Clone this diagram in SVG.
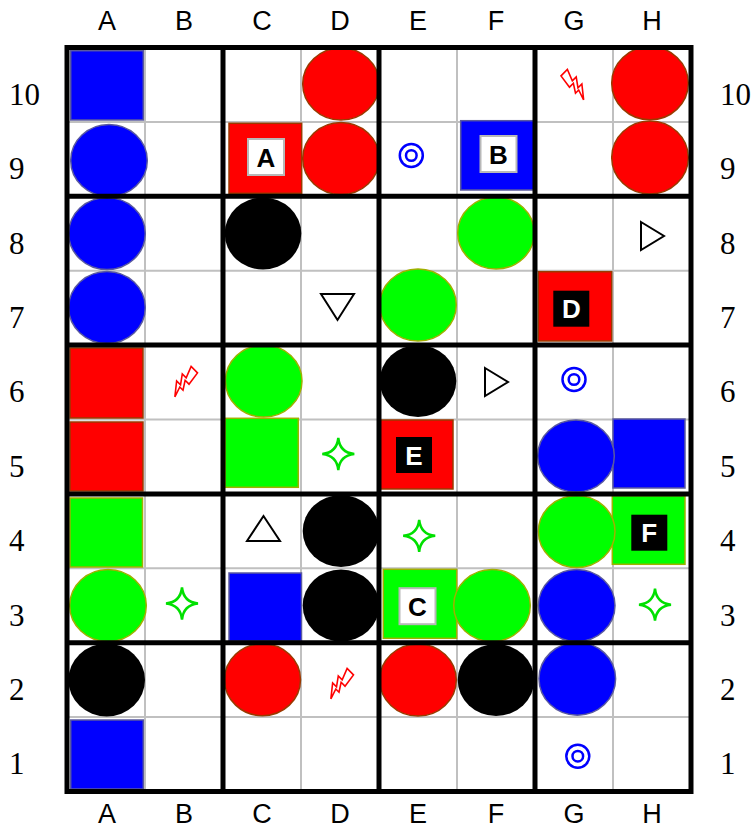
<svg xmlns="http://www.w3.org/2000/svg" width="754" height="830" viewBox="0 0 754 830">
<defs>
<style>
.bg{fill:#fff}
.thin{stroke:#c0c0c0;stroke-width:2;fill:none}
.thick{stroke:#000;stroke-width:5;fill:none;stroke-linecap:square}
.colL{font-family:"Liberation Sans",Arial,sans-serif;font-size:27px;text-anchor:middle;fill:#000}
.rowL{font-family:"Liberation Serif","Times New Roman",serif;font-size:31px;fill:#000}
.blue{fill:#0000ff;stroke:#5a5aa0;stroke-width:1.5}
.red{fill:#ff0000;stroke:#9a3a00;stroke-width:1.5}
.green{fill:#00ff00;stroke:#a0b000;stroke-width:1.5}
.black{fill:#000;stroke:none}
.boxW{fill:#fff;stroke:#b8b8b8;stroke-width:2}
.boxB{fill:#000;stroke:none}
.lblB{font-family:"Liberation Sans",Arial,sans-serif;font-weight:bold;font-size:26px;text-anchor:middle;fill:#000}
.lblW{font-family:"Liberation Sans",Arial,sans-serif;font-weight:bold;font-size:26px;text-anchor:middle;fill:#fff}
.tri{fill:#fff;stroke:#000;stroke-width:2}
.ring{fill:none;stroke:#0000ff;stroke-width:2.5}
.star{fill:#fff;stroke:#00e000;stroke-width:2.5}
.bolt{fill:#fff;stroke:#ff0000;stroke-width:1.6;stroke-linejoin:miter}
</style>
<path id="starP" d="M0,-16 Q1.5,-1.5 16,0 Q1.5,1.5 0,16 Q-1.5,1.5 -16,0 Q-1.5,-1.5 0,-16 Z"/>
<path id="boltP" d="M-4.5,-16 L4.5,-16 L0,-4.5 L5.5,-4.5 L-1,4.5 L4.5,4.5 L-5.5,17 L-2,6.5 L-6.5,6.5 L-1,-2 L-6.5,-2 Z"/>
</defs>
<rect class="bg" x="0" y="0" width="754" height="830"/>

<g id="labels">
<text class="colL" x="107" y="30">A</text>
<text class="colL" x="184" y="30">B</text>
<text class="colL" x="262" y="30">C</text>
<text class="colL" x="340" y="30">D</text>
<text class="colL" x="418" y="30">E</text>
<text class="colL" x="496" y="30">F</text>
<text class="colL" x="574" y="30">G</text>
<text class="colL" x="652" y="30">H</text>
<text class="colL" x="107" y="823">A</text>
<text class="colL" x="184" y="823">B</text>
<text class="colL" x="262" y="823">C</text>
<text class="colL" x="340" y="823">D</text>
<text class="colL" x="418" y="823">E</text>
<text class="colL" x="496" y="823">F</text>
<text class="colL" x="574" y="823">G</text>
<text class="colL" x="652" y="823">H</text>
<text class="rowL" x="9" y="105">10</text>
<text class="rowL" x="9" y="179">9</text>
<text class="rowL" x="9" y="254">8</text>
<text class="rowL" x="9" y="328">7</text>
<text class="rowL" x="9" y="402">6</text>
<text class="rowL" x="9" y="477">5</text>
<text class="rowL" x="9" y="551">4</text>
<text class="rowL" x="9" y="626">3</text>
<text class="rowL" x="9" y="700">2</text>
<text class="rowL" x="9" y="774">1</text>
<text class="rowL" x="720" y="105">10</text>
<text class="rowL" x="720" y="179">9</text>
<text class="rowL" x="720" y="254">8</text>
<text class="rowL" x="720" y="328">7</text>
<text class="rowL" x="720" y="402">6</text>
<text class="rowL" x="720" y="477">5</text>
<text class="rowL" x="720" y="551">4</text>
<text class="rowL" x="720" y="626">3</text>
<text class="rowL" x="720" y="700">2</text>
<text class="rowL" x="720" y="774">1</text>
</g>

<g id="grid-thin">
<path class="thin" d="M145,47.5V791.5 M301,47.5V791.5 M457,47.5V791.5 M613,47.5V791.5 M67,121.9H691 M67,270.7H691 M67,419.5H691 M67,568.3H691 M67,717.1H691"/>
</g>

<g id="pieces">
<g id="A10"><rect class="blue" x="70.7" y="50.7" width="72.6" height="69.3"/></g>
<g id="C9"><rect class="red" x="229" y="123.3" width="72.7" height="70"/><rect class="boxW" x="248" y="139" width="36" height="36"/><text class="lblB" x="266" y="166.5">A</text></g>
<g id="F9"><rect class="blue" x="460.7" y="120.7" width="73.3" height="69.3"/><rect class="boxW" x="480.5" y="136" width="36" height="36"/><text class="lblB" x="498.5" y="163.5">B</text></g>
<g id="G7"><rect class="red" x="538.3" y="271.7" width="73.4" height="69.3"/><rect class="boxB" x="553.3" y="290.7" width="36" height="36"/><text class="lblW" x="571.3" y="318">D</text></g>
<g id="A6"><rect class="red" x="70" y="348" width="73" height="70"/></g>
<g id="A5"><rect class="red" x="70" y="422" width="73" height="69"/></g>
<g id="C5"><rect class="green" x="225" y="418.3" width="73.3" height="69"/></g>
<g id="E5"><rect class="red" x="380" y="420" width="73" height="69"/><rect class="boxB" x="396" y="437" width="36" height="36"/><text class="lblW" x="414" y="464.5">E</text></g>
<g id="H5"><rect class="blue" x="613" y="419" width="72" height="69"/></g>
<g id="A4"><rect class="green" x="70" y="498" width="72.5" height="69"/></g>
<g id="H4"><rect class="green" x="612.3" y="495.7" width="72.7" height="68.6"/><rect class="boxB" x="631.3" y="514.7" width="36" height="36"/><text class="lblW" x="649.3" y="542">F</text></g>
<g id="C3"><rect class="blue" x="229" y="573" width="72.5" height="68"/></g>
<g id="E3"><rect class="green" x="383.3" y="569.3" width="73.4" height="69"/><rect class="boxW" x="399.5" y="588.2" width="36" height="36"/><text class="lblB" x="417.5" y="615.5">C</text></g>
<g id="A1"><rect class="blue" x="70.7" y="720" width="72.6" height="69"/></g>

<g id="D10"><ellipse class="red" cx="341" cy="84" rx="38.3" ry="36"/></g>
<g id="H10"><ellipse class="red" cx="650" cy="83.3" rx="38.3" ry="36.5"/></g>
<g id="A9"><ellipse class="blue" cx="109" cy="160.5" rx="38.3" ry="36"/></g>
<g id="D9"><ellipse class="red" cx="341" cy="158.5" rx="38.3" ry="36"/></g>
<g id="H9"><ellipse class="red" cx="650" cy="157.5" rx="38.3" ry="36.5"/></g>
<g id="A8"><ellipse class="blue" cx="107" cy="233.5" rx="38.3" ry="36"/></g>
<g id="C8"><ellipse class="black" cx="263" cy="233.5" rx="38.3" ry="36"/></g>
<g id="F8"><ellipse class="green" cx="496" cy="233" rx="38.3" ry="36"/></g>
<g id="A7"><ellipse class="blue" cx="107" cy="307.5" rx="38.3" ry="36"/></g>
<g id="E7"><ellipse class="green" cx="418" cy="305" rx="38.3" ry="36"/></g>
<g id="C6"><ellipse class="green" cx="263.7" cy="381" rx="38.3" ry="36"/></g>
<g id="E6"><ellipse class="black" cx="418" cy="381" rx="38.3" ry="36"/></g>
<g id="G5"><ellipse class="blue" cx="576" cy="456" rx="38.3" ry="36"/></g>
<g id="D4"><ellipse class="black" cx="341" cy="531" rx="38.3" ry="36"/></g>
<g id="G4"><ellipse class="green" cx="576.7" cy="531.5" rx="38.3" ry="36"/></g>
<g id="A3"><ellipse class="green" cx="108" cy="605.5" rx="38.3" ry="36"/></g>
<g id="D3"><ellipse class="black" cx="341" cy="605.5" rx="38.3" ry="36"/></g>
<g id="F3"><ellipse class="green" cx="492" cy="605.5" rx="38.3" ry="36"/></g>
<g id="G3"><ellipse class="blue" cx="576.7" cy="605.5" rx="38.3" ry="36"/></g>
<g id="A2"><ellipse class="black" cx="106.7" cy="680" rx="38.3" ry="36.5"/></g>
<g id="C2"><ellipse class="red" cx="262.5" cy="679.7" rx="38" ry="36"/></g>
<g id="E2"><ellipse class="red" cx="418" cy="680" rx="38.3" ry="36"/></g>
<g id="F2"><ellipse class="black" cx="496" cy="680" rx="38.3" ry="36"/></g>
<g id="G2"><ellipse class="blue" cx="577.3" cy="678.7" rx="38.3" ry="36.5"/></g>

<g id="D7"><polygon class="tri" points="321,294 354,294 337.5,320"/></g>
<g id="H8"><polygon class="tri" points="641,222 664,236 641,250"/></g>
<g id="F6"><polygon class="tri" points="485,368 508,382 485,396"/></g>
<g id="C4"><polygon class="tri" points="247,541 280,541 263.5,516"/></g>

<g id="E9"><circle class="ring" cx="411.3" cy="155.5" r="11.5"/><circle class="ring" cx="411.3" cy="155.5" r="5.3"/></g>
<g id="G6"><circle class="ring" cx="574" cy="379.5" r="11.5"/><circle class="ring" cx="574" cy="379.5" r="5.3"/></g>
<g id="G1"><circle class="ring" cx="577.8" cy="756.2" r="11.5"/><circle class="ring" cx="577.8" cy="756.2" r="5.3"/></g>

<g id="D5"><use href="#starP" class="star" x="338.3" y="454"/></g>
<g id="E4"><use href="#starP" class="star" x="419.2" y="535.8"/></g>
<g id="B3"><use href="#starP" class="star" x="182" y="603.5"/></g>
<g id="H3"><use href="#starP" class="star" x="655" y="604.7"/></g>

<g id="G10"><use href="#boltP" class="bolt" transform="translate(575.5,84) rotate(-45)"/></g>
<g id="B6"><use href="#boltP" class="bolt" transform="translate(183,381) rotate(225) scale(1,-1)"/></g>
<g id="D2"><use href="#boltP" class="bolt" transform="translate(339,683) rotate(225) scale(1,-1)"/></g>
</g>

<g id="grid-thick">
<path class="thick" d="M67,47.5V791.5 M223,47.5V791.5 M379,47.5V791.5 M535,47.5V791.5 M691,47.5V791.5 M67,47.5H691 M67,196.3H691 M67,345.1H691 M67,493.9H691 M67,642.7H691 M67,791.5H691"/>
</g>
<g id="connectors"/>
</svg>
